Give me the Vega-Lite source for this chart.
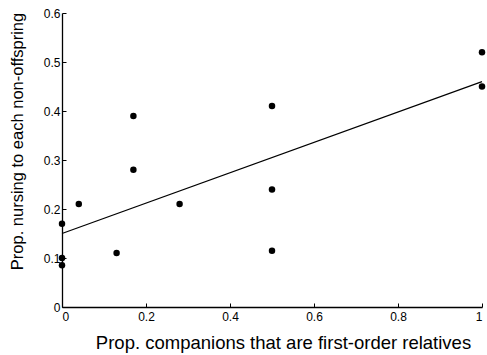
{
  "$schema": "https://vega.github.io/schema/vega-lite/v6.json",
  "width": 420,
  "height": 294,
  "autosize": {"type": "none"},
  "padding": {"left": 62, "top": 13, "right": 5, "bottom": 48},
  "background": "white",
  "config": {
    "view": {"stroke": null},
    "font": "Liberation Sans",
    "axis": {
      "grid": false,
      "domainColor": "black",
      "domainWidth": 1.3,
      "tickColor": "black",
      "tickWidth": 1,
      "tickSize": -4,
      "labelColor": "black",
      "labelFont": "Liberation Sans",
      "labelFontSize": 12,
      "titleFont": "Liberation Sans",
      "titleFontWeight": "normal",
      "titleColor": "black"
    }
  },
  "datasets": {
    "pts": [
      {"x": 0, "y": 0.17},
      {"x": 0, "y": 0.1},
      {"x": 0, "y": 0.085},
      {"x": 0.04, "y": 0.21},
      {"x": 0.13, "y": 0.11},
      {"x": 0.17, "y": 0.28},
      {"x": 0.17, "y": 0.39},
      {"x": 0.28, "y": 0.21},
      {"x": 0.5, "y": 0.41},
      {"x": 0.5, "y": 0.24},
      {"x": 0.5, "y": 0.115},
      {"x": 1, "y": 0.52},
      {"x": 1, "y": 0.45}
    ],
    "fit": [
      {"x": 0, "y": 0.15},
      {"x": 1, "y": 0.46}
    ]
  },
  "layer": [
    {
      "data": {"name": "pts"},
      "mark": {"type": "point", "filled": true, "color": "black", "opacity": 1, "size": 42},
      "encoding": {
        "x": {
          "field": "x", "type": "quantitative",
          "scale": {"domain": [0, 1], "nice": false, "zero": false},
          "axis": {"values": [0, 0.2, 0.4, 0.6, 0.8, 1], "format": "~g", "title": "Prop. companions that are first-order relatives", "titleFontSize": 18.5, "labelPadding": 8, "titleX": 221, "titleY": 41, "titleBaseline": "alphabetic"}
        },
        "y": {
          "field": "y", "type": "quantitative",
          "scale": {"domain": [0, 0.6], "nice": false},
          "axis": {"values": [0, 0.1, 0.2, 0.3, 0.4, 0.5, 0.6], "format": "~g", "title": "Prop. nursing to each non-offspring", "titleFontSize": 16.5, "labelPadding": 6, "titleX": -37, "titleY": 128}
        }
      }
    },
    {
      "data": {"name": "fit"},
      "mark": {"type": "line", "color": "black", "strokeWidth": 1.2},
      "encoding": {
        "x": {"field": "x", "type": "quantitative"},
        "y": {"field": "y", "type": "quantitative"}
      }
    },
    {
      "mark": {"type": "rule", "color": "black", "strokeWidth": 1.3},
      "encoding": {
        "y": {"datum": 0.6},
        "x": {"datum": 0},
        "x2": {"datum": 1.02}
      }
    }
  ]
}
